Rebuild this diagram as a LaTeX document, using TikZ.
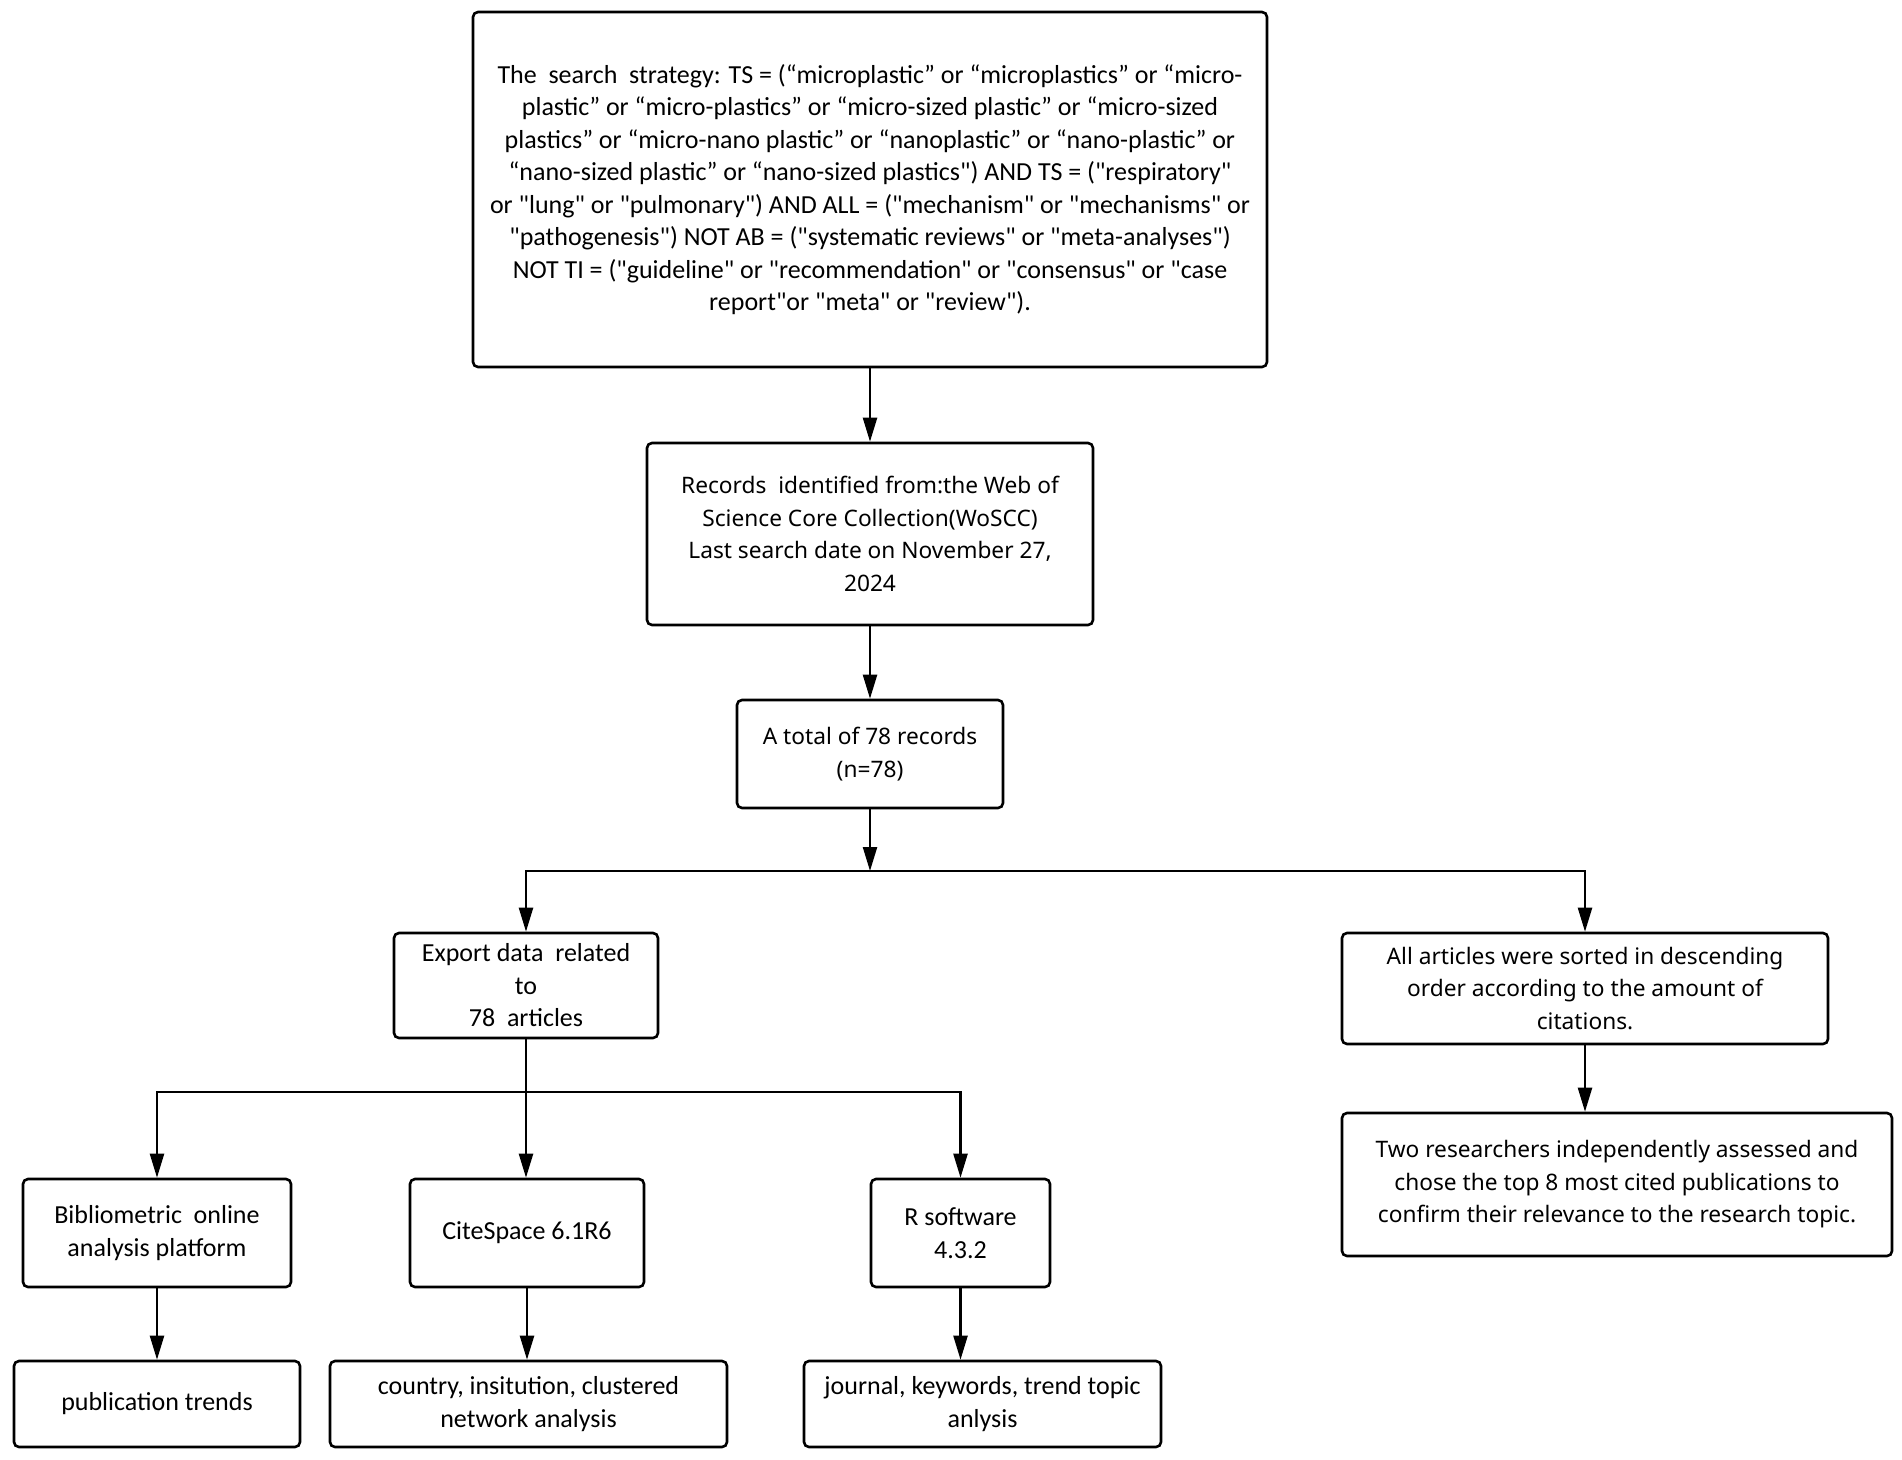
\documentclass[tikz,border=0pt]{standalone}
\usepackage{fontspec}
\setmainfont{Carlito}[Ligatures=TeXOff]
\newfontfamily\widefont{Noto Sans}[Ligatures=TeXOff]
\usetikzlibrary{arrows.meta}
\begin{document}
\begin{tikzpicture}[x=1pt,y=-1pt,
  box/.style={draw, line width=2.6pt, rounded corners=5pt, align=center, inner sep=0pt},
  conn/.style={line width=2.3pt},
  tip/.tip={Triangle[length=24pt,width=14pt]},
  arr/.style={conn,-tip},
  narrowtxt/.style={font=\fontsize{26}{32.5}\selectfont},
  widetxt/.style={font=\widefont\fontsize{22.7}{32.5}\selectfont},
]
\useasboundingbox (0,0) rectangle (1902,1459);

\node[box, narrowtxt, minimum width=794pt, minimum height=355pt] (top) at (870,189.5)
 {The\ \ search\ \ strategy: TS = (“microplastic” or “microplastics” or “micro-\\
  plastic” or “micro-plastics” or “micro-sized plastic” or “micro-sized\\
  plastics” or “micro-nano plastic” or “nanoplastic” or “nano-plastic” or\\
  “nano-sized plastic” or “nano-sized plastics") AND TS = ("respiratory"\\
  or "lung" or "pulmonary") AND ALL = ("mechanism" or "mechanisms" or\\
  "pathogenesis") NOT AB = ("systematic reviews" or "meta-analyses")\\
  NOT TI = ("guideline" or "recommendation" or "consensus" or "case\\
  report"or "meta" or "review").};

\node[box, widetxt, minimum width=446pt, minimum height=182pt] (rec) at (870,534)
 {Records\ \ identified from:the Web of\\
  Science Core Collection(WoSCC)\\
  Last search date on November 27,\\
  2024};

\node[box, widetxt, minimum width=266pt, minimum height=108pt] (tot) at (870,754)
 {A total of 78 records\\(n=78)};

\node[box, narrowtxt, minimum width=264pt, minimum height=105pt] (exp) at (526,985.5)
 {Export data\ \ related\\to\\78\ \ articles};

\node[box, widetxt, minimum width=486pt, minimum height=111pt] (all) at (1585,988.5)
 {All articles were sorted in descending\\order according to the amount of\\citations.};

\node[box, widetxt, minimum width=550pt, minimum height=143pt] (two) at (1617,1184.5)
 {Two researchers independently assessed and\\chose the top 8 most cited publications to\\confirm their relevance to the research topic.};

\node[box, narrowtxt, minimum width=268pt, minimum height=108pt] (bib) at (157,1233)
 {Bibliometric\ \ online\\analysis platform};
\node[box, narrowtxt, minimum width=234pt, minimum height=108pt] (cite) at (527,1233)
 {CiteSpace 6.1R6};
\node[box, narrowtxt, minimum width=179pt, minimum height=108pt] (rsw) at (960.5,1233)
 {R software\\4.3.2};

\node[box, narrowtxt, minimum width=286pt, minimum height=86pt] (pub) at (157,1404)
 {publication trends};
\node[box, narrowtxt, minimum width=397pt, minimum height=86pt] (cty) at (528.5,1404)
 {country, insitution, clustered\\network analysis};
\node[box, narrowtxt, minimum width=357pt, minimum height=86pt] (jou) at (982.5,1404)
 {journal, keywords, trend topic\\anlysis};

\coordinate (s1) at (870,871);
\coordinate (s1l) at (526,871);
\coordinate (s1r) at (1585,871);
\coordinate (s2l) at (157,1092);
\coordinate (s2r) at (960.5,1092);

\draw[arr] (top.south) -- (rec.north);
\draw[arr] (rec.south) -- (tot.north);
\draw[arr] (tot.south) -- (s1);
\draw[conn, tip-tip] (exp.north) -- (s1l) -- (s1r) -- (all.north);
\draw[arr] (all.south) -- (all.south |- two.north);
\draw[arr] (exp.south) -- (exp.south |- cite.north);
\draw[conn, tip-tip] (bib.north) -- (s2l) -- (s2r) -- (rsw.north);
\draw[arr] (bib.south) -- (pub.north);
\draw[arr] (cite.south) -- (cite.south |- cty.north);
\draw[arr] (rsw.south) -- (rsw.south |- jou.north);
\end{tikzpicture}
\end{document}
